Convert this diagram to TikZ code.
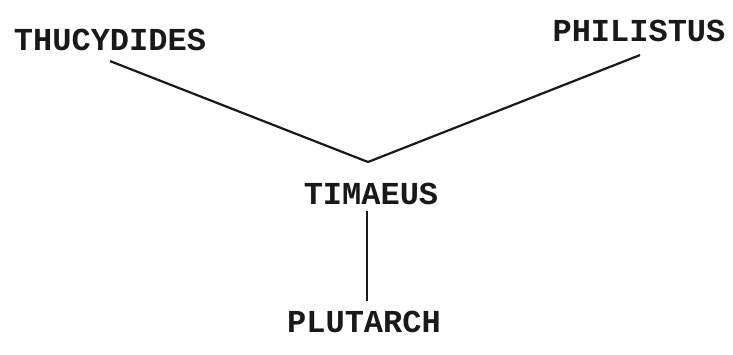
\documentclass[tikz,border=0pt]{standalone}
\usepackage{fontspec}
\newfontfamily\tw{Liberation Mono}
\begin{document}
\begin{tikzpicture}[x=1pt,y=-1pt,
  lbl/.style={font=\tw\bfseries\fontsize{32}{32}\selectfont, inner sep=0pt, text=black!90},
  link/.style={line width=2.2pt, black!90}]
\useasboundingbox (0,0) rectangle (733,354);
\node[lbl] (thu) at (110,40) {THUCYDIDES};
\node[lbl] (phi) at (639,31) {PHILISTUS};
\node[lbl] (tim) at (371,194) {TIMAEUS};
\node[lbl] (plu) at (364,322) {PLUTARCH};
\coordinate (v) at (368,162);
\draw[link] ([yshift=-10pt]thu.south) -- (v);
\draw[link] ([yshift=-13pt,xshift=1pt]phi.south) -- (v);
\draw[link] ([yshift=-6pt,xshift=-4pt]tim.south) -- ([yshift=10pt,xshift=3pt]plu.north);
\end{tikzpicture}
\end{document}
